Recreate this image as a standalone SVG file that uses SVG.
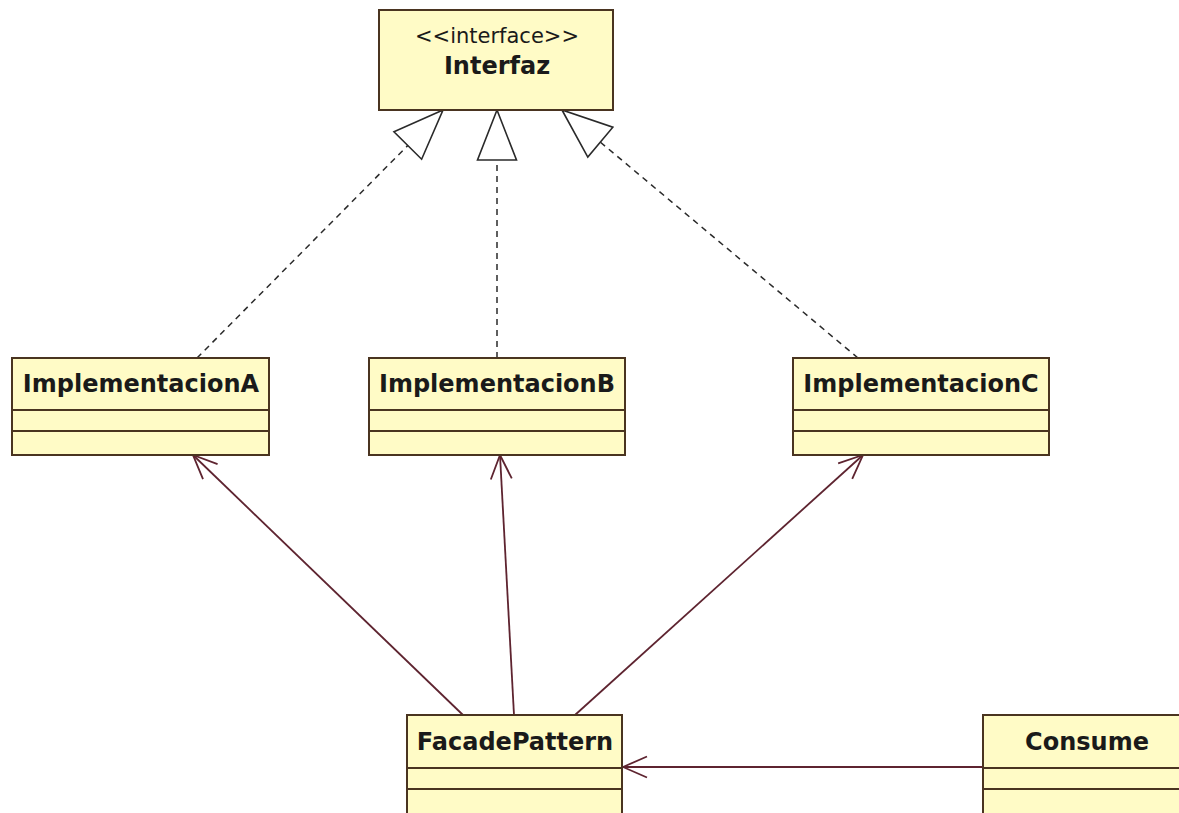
<svg xmlns="http://www.w3.org/2000/svg" width="1179" height="813" viewBox="0 0 1179 813">
  <style>
    .box { fill: #FFFBC6; stroke: #4A3420; stroke-width: 2; }
    .sep { stroke: #4A3420; stroke-width: 2; }
    .title { font-family: "DejaVu Sans", Verdana, sans-serif; font-weight: bold; font-size: 24px; fill: #1A1A1A; text-anchor: middle; }
    .stereo { font-family: "DejaVu Sans", Verdana, sans-serif; font-size: 21px; fill: #1A1A1A; text-anchor: middle; }
    .realize { stroke: #2A2A2A; stroke-width: 1.5; stroke-dasharray: 6 5; fill: none; }
    .assoc { stroke: #5E2430; stroke-width: 1.8; fill: none; }
  </style>
  <defs>
    <!-- hollow triangle for interface realization -->
    <marker id="realizeHead" markerUnits="userSpaceOnUse" viewBox="-52 -22 54 44" refX="0" refY="0" markerWidth="54" markerHeight="44" orient="auto">
      <path d="M0,0 L-50,-19.5 L-50,19.5 Z" fill="#FFFFFF" stroke="#2A2A2A" stroke-width="1.6" stroke-linejoin="miter"/>
    </marker>
    <!-- open arrowhead for navigable association -->
    <marker id="openHead" markerUnits="userSpaceOnUse" viewBox="-28 -14 30 28" refX="0" refY="0" markerWidth="30" markerHeight="28" orient="auto">
      <path d="M-24,-10.5 L0,0 L-24,10.5" fill="none" stroke="#5E2430" stroke-width="1.8"/>
    </marker>
  </defs>

  <rect width="1179" height="813" fill="#FFFFFF"/>

  <g id="connectors">
    <line class="realize" x1="197" y1="358" x2="443" y2="110" marker-end="url(#realizeHead)"/>
    <line class="realize" x1="497" y1="358" x2="497" y2="110" marker-end="url(#realizeHead)"/>
    <line class="realize" x1="858" y1="358" x2="562" y2="110" marker-end="url(#realizeHead)"/>
    <line class="assoc" x1="463" y1="715" x2="193" y2="455" marker-end="url(#openHead)"/>
    <line class="assoc" x1="514" y1="715" x2="500" y2="455" marker-end="url(#openHead)"/>
    <line class="assoc" x1="575" y1="715" x2="863" y2="455" marker-end="url(#openHead)"/>
    <line class="assoc" x1="983" y1="767" x2="623" y2="767" marker-end="url(#openHead)"/>
  </g>

  <g id="interfaz">
    <rect class="box" x="379" y="10" width="234" height="100"/>
    <text class="stereo" x="497" y="43">&lt;&lt;interface&gt;&gt;</text>
    <text class="title" x="497" y="74">Interfaz</text>
  </g>

  <g id="implementacionA">
    <rect class="box" x="12" y="358" width="257" height="97"/>
    <line class="sep" x1="12" y1="410" x2="269" y2="410"/>
    <line class="sep" x1="12" y1="431" x2="269" y2="431"/>
    <text class="title" x="141" y="392">ImplementacionA</text>
  </g>

  <g id="implementacionB">
    <rect class="box" x="369" y="358" width="256" height="97"/>
    <line class="sep" x1="369" y1="410" x2="625" y2="410"/>
    <line class="sep" x1="369" y1="431" x2="625" y2="431"/>
    <text class="title" x="497" y="392">ImplementacionB</text>
  </g>

  <g id="implementacionC">
    <rect class="box" x="793" y="358" width="256" height="97"/>
    <line class="sep" x1="793" y1="410" x2="1049" y2="410"/>
    <line class="sep" x1="793" y1="431" x2="1049" y2="431"/>
    <text class="title" x="921" y="392">ImplementacionC</text>
  </g>

  <g id="facadePattern">
    <rect class="box" x="407" y="715" width="215" height="110"/>
    <line class="sep" x1="407" y1="768" x2="622" y2="768"/>
    <line class="sep" x1="407" y1="789" x2="622" y2="789"/>
    <text class="title" x="515" y="750">FacadePattern</text>
  </g>

  <g id="consume">
    <rect class="box" x="983" y="715" width="208" height="110"/>
    <line class="sep" x1="983" y1="768" x2="1191" y2="768"/>
    <line class="sep" x1="983" y1="789" x2="1191" y2="789"/>
    <text class="title" x="1087" y="750">Consume</text>
  </g>
</svg>
